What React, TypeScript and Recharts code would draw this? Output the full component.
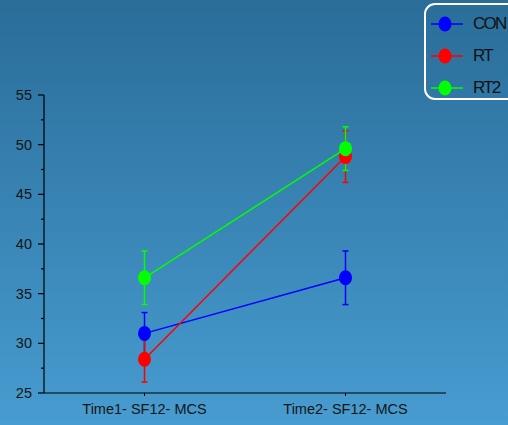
import React from "react";
import { LineChart, Line, XAxis, YAxis, ErrorBar } from "recharts";

const categories = ["Time1- SF12- MCS", "Time2- SF12- MCS"];
const conValues = [31.0, 36.6];
const conErrors = [2.1, 2.7];
const rtValues = [28.4, 48.8];
const rtErrors = [2.3, 2.6];
const rt2Values = [36.6, 49.6];
const rt2Errors = [2.7, 2.2];
const yTicks = [25, 27.5, 30, 32.5, 35, 37.5, 40, 42.5, 45, 47.5, 50, 52.5, 55];

const series = [
  { key: "CON", color: "#0000ff" },
  { key: "RT", color: "#ff0000" },
  { key: "RT2", color: "#00ff00" },
];

const data = categories.map((name, i) => ({
  name,
  CON: conValues[i],
  CONerr: conErrors[i],
  RT: rtValues[i],
  RTerr: rtErrors[i],
  RT2: rt2Values[i],
  RT2err: rt2Errors[i],
}));

const font = "'Liberation Sans', Arial, sans-serif";

// ellipse marker, a bit taller than wide
const makeDot = (color: string) => (props: any) => {
  const { cx, cy, index } = props;
  if (cx == null || cy == null) return <g key={index} />;
  return <ellipse key={index} cx={cx} cy={cy} rx={6.5} ry={7.5} fill={color} />;
};

// y ticks: labels on whole fives, short minor ticks between
const YTick = (props: any) => {
  const { x, y, payload } = props;
  const major = payload.value % 5 === 0;
  return (
    <g>
      <line x1={major ? x + 6 : x + 9} x2={x + 12} y1={y} y2={y} stroke="#000" strokeWidth={1.2} />
      {major && (
        <text x={x} y={y} dy={5} textAnchor="end" fontSize={14.5} fontFamily={font} fill="#151515">
          {payload.value}
        </text>
      )}
    </g>
  );
};

const LegendBox = () => (
  <div
    style={{
      position: "absolute",
      top: 3,
      left: 424,
      width: 100,
      height: 97,
      border: "2px solid #fff",
      borderRadius: 11,
      boxSizing: "border-box",
      paddingTop: 3,
    }}
  >
    {series.map((s) => (
      <div key={s.key} style={{ display: "flex", alignItems: "center", height: 32 }}>
        <svg width={44} height={18} style={{ marginLeft: 3 }}>
          <line x1={2} x2={34} y1={9} y2={9} stroke={s.color} strokeWidth={1.5} />
          <ellipse cx={16} cy={9} rx={6.5} ry={7.5} fill={s.color} />
        </svg>
        <span
          style={{
            fontFamily: font,
            fontSize: 17,
            letterSpacing: -1.8,
            color: "#111",
          }}
        >
          {s.key}
        </span>
      </div>
    ))}
  </div>
);

export default function App() {
  return (
    <div
      style={{
        position: "absolute",
        left: 0,
        top: 0,
        width: 508,
        height: 425,
        overflow: "hidden",
        background: "linear-gradient(to bottom, #2a6d99, #479cd0)",
      }}
    >
      <LineChart width={508} height={425} data={data} margin={{ top: 95, right: 62, bottom: 0, left: 0 }}>
        <XAxis
          dataKey="name"
          scale="band"
          height={32}
          axisLine={{ stroke: "#000", strokeWidth: 1.2 }}
          tickLine={{ stroke: "#000" }}
          tickSize={3}
          tickMargin={8}
          tick={{ fontSize: 14.5, fontFamily: font, fill: "#151515" }}
        />
        <YAxis
          width={44}
          domain={[25, 55]}
          ticks={yTicks}
          interval={0}
          allowDataOverflow
          axisLine={{ stroke: "#000", strokeWidth: 1.2 }}
          tickLine={false}
          tickSize={6}
          tickMargin={6}
          tick={<YTick />}
        />
        {series.map((s) => (
          <Line
            key={s.key}
            dataKey={s.key}
            stroke={s.color}
            strokeWidth={1.5}
            dot={makeDot(s.color)}
            activeDot={false}
            isAnimationActive={false}
          >
            <ErrorBar dataKey={`${s.key}err`} width={3} stroke={s.color} strokeWidth={1.5} />
          </Line>
        ))}
      </LineChart>
      <LegendBox />
    </div>
  );
}
